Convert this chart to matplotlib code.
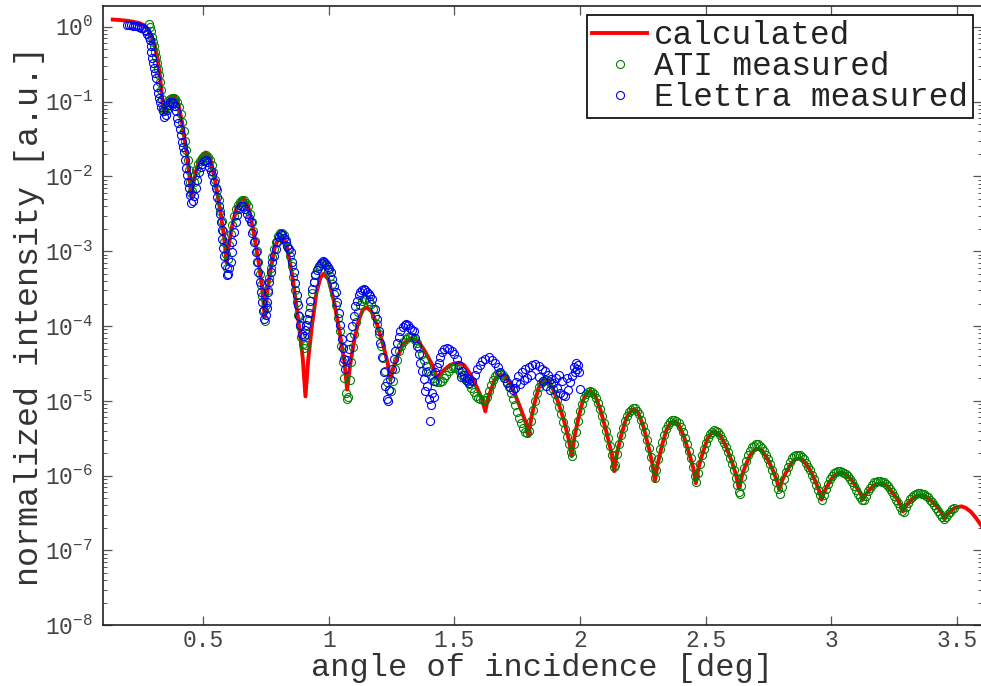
import matplotlib
matplotlib.use("Agg")
import matplotlib.pyplot as plt
import numpy as np
from matplotlib.ticker import LogLocator, NullLocator

# (angle [deg], log10 of normalized intensity)
calc_points = [
    (0.140, 0.097), (0.170, 0.090), (0.200, 0.080), (0.230, 0.062), (0.250, 0.045),
    (0.265, 0.020), (0.278, -0.02), (0.288, -0.08), (0.298, -0.16), (0.308, -0.27),
    (0.318, -0.42), (0.326, -0.60), (0.333, -0.82), (0.339, -1.02), (0.343, -1.15),
    (0.349, -1.08), (0.357, -1.02), (0.368, -0.95), (0.377, -0.93), (0.384, -0.92),
    (0.398, -0.99), (0.415, -1.26), (0.432, -1.63), (0.444, -1.94), (0.452, -2.26),
    (0.461, -2.09), (0.472, -1.92), (0.487, -1.77), (0.500, -1.70), (0.510, -1.68),
    (0.527, -1.75), (0.547, -2.05), (0.568, -2.46), (0.583, -2.80), (0.593, -3.15),
    (0.603, -2.89), (0.616, -2.65), (0.633, -2.42), (0.648, -2.32), (0.660, -2.29),
    (0.677, -2.37), (0.698, -2.69), (0.720, -3.13), (0.735, -3.50), (0.745, -3.88),
    (0.755, -3.55), (0.768, -3.25), (0.785, -2.95), (0.800, -2.82), (0.812, -2.79),
    (0.831, -2.90), (0.855, -3.33), (0.879, -3.93), (0.896, -4.42), (0.907, -4.94),
    (0.918, -4.45), (0.933, -3.99), (0.951, -3.55), (0.967, -3.35), (0.980, -3.30),
    (0.999, -3.38), (1.022, -3.69), (1.045, -4.12), (1.062, -4.48), (1.073, -4.85),
    (1.085, -4.52), (1.100, -4.21), (1.119, -3.92), (1.136, -3.78), (1.150, -3.75),
    (1.169, -3.80), (1.193, -3.99), (1.217, -4.26), (1.234, -4.49), (1.245, -4.72),
    (1.258, -4.55), (1.275, -4.40), (1.297, -4.24), (1.316, -4.18), (1.331, -4.16),
    (1.351, -4.19), (1.376, -4.30), (1.401, -4.45), (1.419, -4.57), (1.431, -4.70),
    (1.444, -4.64), (1.461, -4.58), (1.483, -4.52), (1.502, -4.50), (1.517, -4.49),
    (1.538, -4.52), (1.565, -4.65), (1.591, -4.83), (1.610, -4.98), (1.623, -5.14),
    (1.632, -4.99), (1.645, -4.86), (1.660, -4.72), (1.674, -4.67), (1.685, -4.65),
    (1.707, -4.69), (1.735, -4.86), (1.762, -5.09), (1.782, -5.27), (1.795, -5.47),
    (1.805, -5.25), (1.818, -5.04), (1.835, -4.83), (1.850, -4.74), (1.862, -4.72),
    (1.883, -4.77), (1.909, -4.98), (1.936, -5.26), (1.954, -5.50), (1.967, -5.74),
    (1.978, -5.48), (1.993, -5.24), (2.011, -5.00), (2.027, -4.90), (2.040, -4.87),
    (2.059, -4.92), (2.083, -5.14), (2.107, -5.44), (2.124, -5.68), (2.136, -5.94),
    (2.148, -5.69), (2.164, -5.46), (2.184, -5.23), (2.202, -5.14), (2.216, -5.11),
    (2.232, -5.16), (2.253, -5.35), (2.273, -5.62), (2.288, -5.84), (2.298, -6.07),
    (2.310, -5.83), (2.325, -5.61), (2.344, -5.39), (2.361, -5.29), (2.375, -5.27),
    (2.392, -5.31), (2.414, -5.48), (2.435, -5.71), (2.451, -5.90), (2.461, -6.10),
    (2.472, -5.89), (2.488, -5.70), (2.507, -5.51), (2.523, -5.43), (2.537, -5.41),
    (2.556, -5.45), (2.580, -5.60), (2.604, -5.81), (2.621, -5.99), (2.632, -6.17),
    (2.644, -6.01), (2.659, -5.86), (2.678, -5.72), (2.695, -5.66), (2.709, -5.64),
    (2.726, -5.67), (2.747, -5.78), (2.768, -5.93), (2.783, -6.06), (2.793, -6.19),
    (2.805, -6.06), (2.821, -5.95), (2.842, -5.83), (2.859, -5.78), (2.874, -5.77),
    (2.891, -5.80), (2.913, -5.91), (2.935, -6.06), (2.951, -6.19), (2.961, -6.32),
    (2.973, -6.21), (2.989, -6.11), (3.008, -6.01), (3.026, -5.97), (3.040, -5.96),
    (3.057, -5.98), (3.079, -6.05), (3.100, -6.15), (3.116, -6.23), (3.126, -6.32),
    (3.137, -6.25), (3.152, -6.19), (3.170, -6.13), (3.187, -6.11), (3.200, -6.10),
    (3.217, -6.12), (3.238, -6.20), (3.260, -6.30), (3.275, -6.39), (3.285, -6.48),
    (3.296, -6.41), (3.311, -6.35), (3.329, -6.29), (3.345, -6.27), (3.358, -6.26),
    (3.377, -6.28), (3.400, -6.34), (3.423, -6.42), (3.440, -6.50), (3.451, -6.57),
    (3.461, -6.52), (3.474, -6.48), (3.491, -6.43), (3.506, -6.42), (3.518, -6.41),
    (3.535, -6.43), (3.555, -6.48), (3.575, -6.56), (3.600, -6.68),
]

ati_points = [
    (0.284, 0.04), (0.289, 0.00), (0.293, -0.06), (0.297, -0.13), (0.301, -0.20),
    (0.305, -0.26), (0.309, -0.33), (0.313, -0.40), (0.317, -0.48), (0.321, -0.56),
    (0.325, -0.65), (0.329, -0.74), (0.333, -0.85), (0.337, -0.97), (0.341, -1.08),
    (0.345, -1.12), (0.350, -1.08), (0.355, -1.03), (0.361, -0.99), (0.368, -0.96),
    (0.375, -0.95), (0.382, -0.95), (0.389, -0.96), (0.396, -1.00), (0.403, -1.07),
    (0.410, -1.16), (0.416, -1.27), (0.422, -1.39), (0.428, -1.52), (0.433, -1.65),
    (0.438, -1.78), (0.443, -1.92), (0.448, -2.07), (0.453, -2.22), (0.457, -2.20),
    (0.462, -2.07), (0.467, -1.98), (0.473, -1.91), (0.480, -1.84), (0.487, -1.79),
    (0.494, -1.75), (0.502, -1.73), (0.510, -1.72), (0.518, -1.74), (0.526, -1.78),
    (0.534, -1.85), (0.541, -1.94), (0.548, -2.05), (0.555, -2.18), (0.562, -2.32),
    (0.568, -2.46), (0.574, -2.60), (0.579, -2.73), (0.584, -2.88), (0.589, -3.04),
    (0.594, -3.22), (0.599, -3.10), (0.604, -2.92), (0.610, -2.77), (0.616, -2.65),
    (0.623, -2.53), (0.630, -2.44), (0.638, -2.38), (0.646, -2.34), (0.654, -2.32),
    (0.662, -2.32), (0.670, -2.35), (0.678, -2.40), (0.686, -2.50), (0.693, -2.61),
    (0.700, -2.73), (0.707, -2.86), (0.714, -3.00), (0.720, -3.14), (0.726, -3.30),
    (0.731, -3.45), (0.736, -3.60), (0.741, -3.78), (0.746, -3.93), (0.751, -3.72),
    (0.756, -3.52), (0.762, -3.36), (0.768, -3.22), (0.775, -3.08), (0.782, -2.97),
    (0.790, -2.87), (0.798, -2.80), (0.806, -2.76), (0.814, -2.75), (0.822, -2.78),
    (0.830, -2.85), (0.838, -2.95), (0.845, -3.07), (0.852, -3.20), (0.859, -3.35),
    (0.866, -3.52), (0.872, -3.68), (0.878, -3.85), (0.884, -4.00), (0.890, -4.14),
    (0.896, -4.24), (0.902, -4.30), (0.908, -4.25), (0.914, -4.10), (0.920, -3.92),
    (0.926, -3.74), (0.933, -3.56), (0.940, -3.41), (0.947, -3.30), (0.955, -3.22),
    (0.963, -3.18), (0.971, -3.16), (0.980, -3.16), (0.988, -3.19), (0.996, -3.25),
    (1.004, -3.33), (1.012, -3.44), (1.020, -3.57), (1.028, -3.72), (1.036, -3.89),
    (1.043, -4.07), (1.050, -4.27), (1.056, -4.48), (1.062, -4.70), (1.068, -4.90),
    (1.074, -4.98), (1.078, -4.95), (1.083, -4.72), (1.089, -4.48), (1.095, -4.28),
    (1.102, -4.10), (1.110, -3.94), (1.118, -3.81), (1.126, -3.72), (1.134, -3.67),
    (1.142, -3.64), (1.150, -3.64), (1.158, -3.66), (1.166, -3.70), (1.174, -3.77),
    (1.182, -3.86), (1.190, -3.97), (1.198, -4.10), (1.206, -4.26), (1.214, -4.43),
    (1.222, -4.60), (1.230, -4.75), (1.238, -4.85), (1.246, -4.87), (1.254, -4.74),
    (1.262, -4.58), (1.270, -4.45), (1.279, -4.34), (1.288, -4.26), (1.297, -4.21),
    (1.306, -4.17), (1.315, -4.15), (1.324, -4.14), (1.333, -4.15), (1.342, -4.18),
    (1.351, -4.22), (1.360, -4.29), (1.369, -4.37), (1.378, -4.45), (1.387, -4.53),
    (1.396, -4.60), (1.405, -4.66), (1.414, -4.70), (1.423, -4.73), (1.432, -4.75),
    (1.441, -4.75), (1.450, -4.73), (1.459, -4.70), (1.468, -4.65), (1.477, -4.60),
    (1.486, -4.56), (1.495, -4.55), (1.504, -4.56), (1.513, -4.58), (1.522, -4.62),
    (1.531, -4.66), (1.540, -4.70), (1.549, -4.74), (1.558, -4.78), (1.567, -4.83),
    (1.576, -4.88), (1.585, -4.93), (1.594, -4.96), (1.603, -4.98), (1.612, -4.99),
    (1.620, -4.99), (1.628, -4.95), (1.636, -4.87), (1.644, -4.79), (1.652, -4.72),
    (1.660, -4.67), (1.668, -4.64), (1.676, -4.63), (1.684, -4.64), (1.692, -4.66),
    (1.700, -4.70), (1.708, -4.75), (1.716, -4.81), (1.724, -4.89), (1.732, -4.97),
    (1.740, -5.06), (1.748, -5.15), (1.756, -5.23), (1.764, -5.30), (1.772, -5.36),
    (1.780, -5.41), (1.788, -5.43), (1.796, -5.40), (1.804, -5.27), (1.812, -5.12),
    (1.820, -5.00), (1.828, -4.89), (1.836, -4.81), (1.844, -4.76), (1.852, -4.73),
    (1.860, -4.72), (1.868, -4.72), (1.876, -4.74), (1.884, -4.78), (1.892, -4.84),
    (1.900, -4.91), (1.908, -4.99), (1.916, -5.08), (1.924, -5.18), (1.932, -5.28),
    (1.940, -5.38), (1.948, -5.48), (1.956, -5.58), (1.964, -5.69), (1.970, -5.74),
    (1.976, -5.58), (1.982, -5.42), (1.990, -5.27), (1.998, -5.14), (2.006, -5.04),
    (2.014, -4.96), (2.022, -4.91), (2.030, -4.88), (2.038, -4.87), (2.046, -4.88),
    (2.054, -4.91), (2.062, -4.96), (2.070, -5.03), (2.078, -5.11), (2.086, -5.20),
    (2.094, -5.30), (2.102, -5.40), (2.110, -5.50), (2.118, -5.60), (2.126, -5.72),
    (2.134, -5.88), (2.140, -5.86), (2.146, -5.71), (2.154, -5.57), (2.162, -5.46),
    (2.170, -5.36), (2.178, -5.27), (2.186, -5.20), (2.194, -5.15), (2.202, -5.12),
    (2.210, -5.10), (2.218, -5.10), (2.226, -5.13), (2.234, -5.18), (2.242, -5.25),
    (2.250, -5.33), (2.258, -5.42), (2.266, -5.52), (2.274, -5.63), (2.282, -5.75),
    (2.290, -5.90), (2.298, -6.03), (2.304, -5.92), (2.312, -5.78), (2.320, -5.65),
    (2.328, -5.55), (2.336, -5.46), (2.344, -5.38), (2.352, -5.32), (2.360, -5.28),
    (2.368, -5.26), (2.376, -5.25), (2.384, -5.27), (2.392, -5.30), (2.400, -5.35),
    (2.408, -5.42), (2.416, -5.50), (2.424, -5.58), (2.432, -5.67), (2.440, -5.77),
    (2.448, -5.88), (2.456, -6.00), (2.462, -6.08), (2.468, -5.96), (2.476, -5.84),
    (2.484, -5.73), (2.492, -5.64), (2.500, -5.56), (2.508, -5.49), (2.516, -5.44),
    (2.524, -5.41), (2.532, -5.39), (2.540, -5.40), (2.548, -5.42), (2.556, -5.46),
    (2.564, -5.51), (2.572, -5.56), (2.580, -5.62), (2.588, -5.68), (2.596, -5.76),
    (2.604, -5.84), (2.612, -5.93), (2.620, -6.03), (2.626, -6.13), (2.632, -6.22),
    (2.636, -6.25), (2.640, -6.14), (2.646, -6.02), (2.654, -5.90), (2.662, -5.80),
    (2.670, -5.73), (2.678, -5.67), (2.686, -5.62), (2.694, -5.60), (2.702, -5.58),
    (2.710, -5.58), (2.718, -5.60), (2.726, -5.63), (2.734, -5.67), (2.742, -5.72),
    (2.750, -5.78), (2.758, -5.85), (2.766, -5.92), (2.774, -6.00), (2.782, -6.08),
    (2.790, -6.18), (2.796, -6.24), (2.802, -6.15), (2.810, -6.04), (2.818, -5.95),
    (2.826, -5.88), (2.834, -5.82), (2.842, -5.77), (2.850, -5.74), (2.858, -5.72),
    (2.866, -5.72), (2.874, -5.73), (2.882, -5.75), (2.890, -5.78), (2.898, -5.83),
    (2.906, -5.88), (2.914, -5.93), (2.922, -5.99), (2.930, -6.05), (2.938, -6.12),
    (2.946, -6.19), (2.954, -6.26), (2.962, -6.33), (2.970, -6.26), (2.978, -6.18),
    (2.986, -6.11), (2.994, -6.05), (3.002, -6.00), (3.010, -5.97), (3.018, -5.95),
    (3.026, -5.94), (3.034, -5.94), (3.042, -5.95), (3.050, -5.96), (3.058, -5.98),
    (3.066, -6.01), (3.074, -6.05), (3.082, -6.09), (3.090, -6.14), (3.098, -6.19),
    (3.106, -6.24), (3.114, -6.28), (3.122, -6.32), (3.130, -6.33), (3.138, -6.27),
    (3.146, -6.21), (3.154, -6.16), (3.162, -6.12), (3.170, -6.09), (3.178, -6.08),
    (3.186, -6.07), (3.194, -6.07), (3.202, -6.08), (3.210, -6.09), (3.218, -6.11),
    (3.226, -6.14), (3.234, -6.18), (3.242, -6.22), (3.250, -6.27), (3.258, -6.32),
    (3.266, -6.37), (3.274, -6.42), (3.282, -6.47), (3.290, -6.49), (3.298, -6.42),
    (3.306, -6.36), (3.314, -6.31), (3.322, -6.28), (3.330, -6.26), (3.338, -6.24),
    (3.346, -6.23), (3.354, -6.23), (3.362, -6.24), (3.370, -6.25), (3.378, -6.27),
    (3.386, -6.29), (3.394, -6.32), (3.402, -6.35), (3.410, -6.39), (3.418, -6.43),
    (3.426, -6.47), (3.434, -6.51), (3.442, -6.55), (3.450, -6.58), (3.458, -6.55),
    (3.466, -6.51), (3.474, -6.48), (3.482, -6.45), (3.488, -6.43),
]

elettra_points = [
    (0.196, 0.02), (0.204, 0.02), (0.212, 0.02), (0.220, 0.015), (0.228, 0.01),
    (0.236, 0.005), (0.244, 0.00), (0.252, -0.01), (0.260, -0.02), (0.267, -0.04),
    (0.273, -0.06), (0.278, -0.09), (0.283, -0.13), (0.287, -0.18), (0.291, -0.26),
    (0.294, -0.33), (0.298, -0.42), (0.302, -0.49), (0.305, -0.55), (0.308, -0.62),
    (0.311, -0.68), (0.315, -0.80), (0.320, -0.88), (0.324, -0.95), (0.328, -1.01),
    (0.333, -1.07), (0.338, -1.13), (0.344, -1.20), (0.350, -1.18), (0.356, -1.11),
    (0.362, -1.05), (0.368, -1.01), (0.374, -1.00), (0.380, -1.02), (0.386, -1.06),
    (0.391, -1.13), (0.396, -1.22), (0.401, -1.28), (0.406, -1.36), (0.411, -1.45),
    (0.416, -1.54), (0.420, -1.61), (0.424, -1.67), (0.427, -1.78), (0.430, -1.89),
    (0.435, -1.98), (0.440, -2.07), (0.444, -2.16), (0.448, -2.25), (0.453, -2.36),
    (0.458, -2.33), (0.463, -2.26), (0.470, -2.16), (0.476, -2.05), (0.483, -1.94),
    (0.490, -1.88), (0.497, -1.83), (0.503, -1.80), (0.510, -1.78), (0.517, -1.81),
    (0.523, -1.87), (0.530, -1.93), (0.536, -1.98), (0.543, -2.07), (0.550, -2.16),
    (0.556, -2.27), (0.563, -2.39), (0.567, -2.50), (0.570, -2.61), (0.573, -2.72),
    (0.576, -2.83), (0.580, -2.95), (0.583, -3.06), (0.588, -3.19), (0.593, -3.32),
    (0.598, -3.30), (0.604, -3.22), (0.609, -3.15), (0.613, -3.01), (0.616, -2.88),
    (0.622, -2.74), (0.629, -2.61), (0.636, -2.51), (0.642, -2.43), (0.650, -2.40),
    (0.660, -2.39), (0.668, -2.43), (0.675, -2.50), (0.682, -2.55), (0.689, -2.61),
    (0.696, -2.75), (0.702, -2.88), (0.709, -3.01), (0.715, -3.15), (0.720, -3.28),
    (0.726, -3.41), (0.731, -3.55), (0.735, -3.68), (0.739, -3.80), (0.742, -3.91),
    (0.748, -3.85), (0.752, -3.76), (0.755, -3.68), (0.759, -3.55), (0.762, -3.41),
    (0.768, -3.28), (0.775, -3.15), (0.781, -3.06), (0.788, -2.97), (0.795, -2.88),
    (0.801, -2.81), (0.808, -2.77), (0.815, -2.78), (0.822, -2.82), (0.829, -2.88),
    (0.835, -2.93), (0.842, -2.97), (0.848, -3.01), (0.855, -3.14), (0.861, -3.28),
    (0.867, -3.43), (0.874, -3.59), (0.878, -3.72), (0.881, -3.86), (0.887, -3.98),
    (0.894, -4.11), (0.900, -4.13), (0.905, -4.05), (0.910, -3.98), (0.915, -3.90),
    (0.921, -3.82), (0.927, -3.66), (0.934, -3.50), (0.940, -3.41), (0.947, -3.32),
    (0.954, -3.25), (0.961, -3.20), (0.968, -3.16), (0.975, -3.13), (0.982, -3.14),
    (0.989, -3.17), (0.995, -3.21), (1.001, -3.24), (1.007, -3.28), (1.014, -3.37),
    (1.020, -3.46), (1.027, -3.55), (1.033, -3.68), (1.040, -3.82), (1.046, -3.99),
    (1.053, -4.17), (1.057, -4.30), (1.060, -4.44), (1.066, -4.58), (1.073, -4.45),
    (1.080, -4.31), (1.086, -4.15), (1.093, -4.00), (1.100, -3.86), (1.106, -3.73),
    (1.113, -3.66), (1.119, -3.59), (1.126, -3.55), (1.132, -3.52), (1.139, -3.51),
    (1.146, -3.52), (1.152, -3.54), (1.159, -3.57), (1.165, -3.60), (1.172, -3.64),
    (1.182, -3.77), (1.192, -3.91), (1.198, -4.06), (1.205, -4.22), (1.212, -4.42),
    (1.219, -4.62), (1.225, -4.80), (1.232, -4.98), (1.236, -5.00), (1.240, -4.85),
    (1.245, -4.71), (1.252, -4.58), (1.258, -4.44), (1.265, -4.33), (1.272, -4.22),
    (1.278, -4.14), (1.285, -4.06), (1.295, -4.01), (1.302, -3.98), (1.309, -3.97),
    (1.316, -3.99), (1.323, -4.02), (1.331, -4.05), (1.338, -4.06), (1.344, -4.16),
    (1.351, -4.26), (1.358, -4.38), (1.364, -4.49), (1.371, -4.60), (1.378, -4.71),
    (1.384, -4.87), (1.386, -4.62), (1.390, -4.80), (1.397, -4.98), (1.404, -5.27),
    (1.408, -5.05), (1.411, -4.89), (1.417, -4.74), (1.418, -4.95), (1.424, -4.62),
    (1.430, -4.55), (1.437, -4.49), (1.444, -4.42), (1.451, -4.35), (1.460, -4.31),
    (1.471, -4.29), (1.480, -4.31), (1.490, -4.33), (1.500, -4.38), (1.510, -4.44),
    (1.520, -4.52), (1.527, -4.68), (1.530, -4.60), (1.540, -4.65), (1.545, -4.72),
    (1.550, -4.69), (1.558, -4.76), (1.560, -4.71), (1.570, -4.73), (1.580, -4.65),
    (1.590, -4.58), (1.600, -4.52), (1.610, -4.47), (1.620, -4.44), (1.636, -4.42),
    (1.650, -4.45), (1.663, -4.49), (1.673, -4.55), (1.683, -4.62), (1.696, -4.69),
    (1.709, -4.76), (1.722, -4.81), (1.735, -4.85), (1.742, -4.83), (1.745, -4.75),
    (1.755, -4.67), (1.760, -4.78), (1.768, -4.62), (1.776, -4.72), (1.782, -4.58),
    (1.790, -4.70), (1.795, -4.55), (1.805, -4.66), (1.808, -4.52), (1.822, -4.51),
    (1.835, -4.53), (1.838, -4.68), (1.848, -4.57), (1.852, -4.74), (1.860, -4.60),
    (1.866, -4.80), (1.872, -4.65), (1.880, -4.86), (1.884, -4.71), (1.894, -4.76),
    (1.905, -4.70), (1.908, -4.83), (1.918, -4.66), (1.921, -4.89), (1.930, -4.74),
    (1.931, -4.92), (1.941, -4.94), (1.950, -4.70), (1.954, -4.85), (1.961, -4.75),
    (1.967, -4.67), (1.975, -4.55), (1.981, -4.62), (1.984, -4.50), (1.988, -4.58),
    (1.992, -4.52), (1.994, -4.62), (2.000, -4.84),
]

calc_angle, calc_log = np.array(calc_points).T
ati_angle, ati_log = np.array(ati_points).T
elettra_angle, elettra_log = np.array(elettra_points).T

plt.rcParams['font.family'] = ['Liberation Mono', 'DejaVu Sans Mono']
plt.rcParams['mathtext.fontset'] = 'custom'
plt.rcParams['mathtext.rm'] = 'Liberation Mono'
plt.rcParams['mathtext.it'] = 'Liberation Mono'
plt.rcParams['mathtext.default'] = 'rm'

fig = plt.figure(figsize=(9.81, 6.86), dpi=100)
ax = fig.add_axes([0.1047, 0.0885, 0.8963, 0.9028])

ax.plot(calc_angle, 10 ** calc_log, color='#ff0000', lw=2.8,
        label='calculated', zorder=2)
ax.plot(ati_angle, 10 ** ati_log, ls='none', marker='o', ms=5.8,
        mfc='none', mec='#008000', mew=0.8, label='ATI measured', zorder=3)
ax.plot(elettra_angle, 10 ** elettra_log, ls='none', marker='o', ms=5.8,
        mfc='none', mec='#0000ff', mew=0.8, label='Elettra measured', zorder=4)

ax.set_yscale('log')
ax.set_xlim(0.1, 3.6)
ax.set_ylim(1e-8, 1.9)
ax.set_xticks([0.5, 1, 1.5, 2, 2.5, 3, 3.5])
ax.set_xticklabels(['0.5', '1', '1.5', '2', '2.5', '3', '3.5'])
ax.xaxis.set_minor_locator(NullLocator())
ax.set_yticks(10.0 ** np.arange(-8, 1))
ax.yaxis.set_minor_locator(LogLocator(base=10, subs=np.arange(2, 10) * 1.0, numticks=100))

ax.tick_params(which='both', direction='in', top=True, right=True,
               color='#555555', labelcolor='#444444', labelsize=16.5)
ax.tick_params(which='major', length=6.5, width=0.9, pad=7)
ax.tick_params(axis='x', which='major', pad=3)
ax.tick_params(which='minor', length=3.2, width=0.7)
for sp in ax.spines.values():
    sp.set_linewidth(1.2)
    sp.set_color('#222222')

ax.set_xlabel('angle of incidence [deg]', fontsize=23, color='#333333', labelpad=0.5)
ax.set_ylabel('normalized intensity [a.u.]', fontsize=24, color='#333333', labelpad=0)

leg = ax.legend(loc='upper right', fontsize=23.5, frameon=True, fancybox=False,
                edgecolor='black', framealpha=1, borderpad=0.15, labelspacing=0.0,
                handlelength=1.7, handletextpad=0.2, borderaxespad=0.28)
leg.get_frame().set_linewidth(1.2)
for t in leg.get_texts():
    t.set_color('#222222')

fig.savefig('out.png', dpi=100)
